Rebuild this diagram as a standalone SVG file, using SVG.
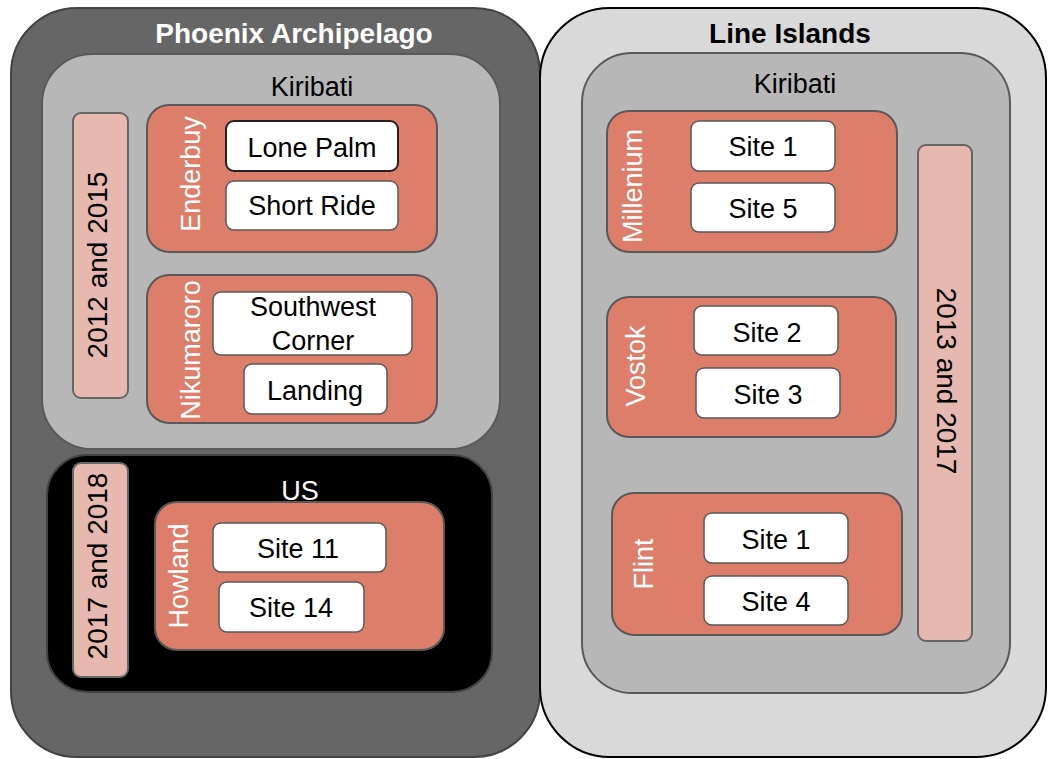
<svg xmlns="http://www.w3.org/2000/svg" width="1048" height="759" viewBox="0 0 1048 759">
  <style>
    text { font-family: "Liberation Sans", Arial, sans-serif; font-size: 27px; text-anchor: middle; }
    .title { font-weight: bold; font-size: 28px; }
    .region { fill: #666666; stroke: #434343; stroke-width: 2; }
    .region2 { fill: #d9d9d9; stroke: #000000; stroke-width: 2; }
    .country { fill: #b7b7b7; stroke: #595959; stroke-width: 2; }
    .us { fill: #000000; stroke: #434343; stroke-width: 2; }
    .island { fill: #dd7e6b; stroke: #595959; stroke-width: 2; }
    .years { fill: #e6b8af; stroke: #666666; stroke-width: 2; }
    .site { fill: #ffffff; stroke: #595959; stroke-width: 1.5; }
    .dark { fill: #000000; }
    .light { fill: #ffffff; }
    .yr { font-size: 28px; }
  </style>

  <!-- Phoenix Archipelago -->
  <g id="phoenix">
    <rect class="region" x="11" y="8" width="529" height="749" rx="66"/>
    <text class="title light" x="294" y="43">Phoenix Archipelago</text>
  </g>

  <g id="phoenix-kiribati">
    <rect class="country" x="42" y="54" width="458" height="395" rx="50"/>
    <text class="dark" x="312" y="96">Kiribati</text>
  </g>

  <g id="years-2012-2015">
    <rect class="years" x="73" y="113" width="55" height="285" rx="8"/>
    <text class="dark yr" transform="translate(107,265) rotate(-90)">2012 and 2015</text>
  </g>

  <g id="enderbuy">
    <rect class="island" x="147" y="105" width="290" height="147" rx="22"/>
    <text class="light" transform="translate(200,174) rotate(-90)">Enderbuy</text>
  </g>
  <g id="lone-palm">
    <rect class="site" x="226" y="121" width="172" height="50" rx="8" style="stroke:#222;stroke-width:2"/>
    <text class="dark" x="312" y="157">Lone Palm</text>
  </g>
  <g id="short-ride">
    <rect class="site" x="226" y="181" width="172" height="49" rx="8"/>
    <text class="dark" x="312" y="215">Short Ride</text>
  </g>

  <g id="nikumaroro">
    <rect class="island" x="147" y="275" width="290" height="148" rx="22"/>
    <text class="light" transform="translate(200,350) rotate(-90)">Nikumaroro</text>
  </g>
  <g id="southwest-corner">
    <rect class="site" x="213" y="292" width="199" height="63" rx="8"/>
    <text class="dark" x="313" y="316">Southwest</text>
    <text class="dark" x="313" y="350">Corner</text>
  </g>
  <g id="landing">
    <rect class="site" x="244" y="364" width="143" height="50" rx="8"/>
    <text class="dark" x="315" y="400">Landing</text>
  </g>

  <g id="phoenix-us">
    <rect class="us" x="47" y="455" width="445" height="237" rx="40"/>
    <text class="light" x="300" y="500">US</text>
  </g>
  <g id="years-2017-2018">
    <rect class="years" x="73" y="463" width="55" height="214" rx="8"/>
    <text class="dark yr" transform="translate(107,566) rotate(-90)">2017 and 2018</text>
  </g>
  <g id="howland">
    <rect class="island" x="155" y="502" width="289" height="148" rx="22"/>
    <text class="light" transform="translate(188,576) rotate(-90)">Howland</text>
  </g>
  <g id="site-11">
    <rect class="site" x="213" y="523" width="173" height="49" rx="8"/>
    <text class="dark" x="298" y="558">Site 11</text>
  </g>
  <g id="site-14">
    <rect class="site" x="219" y="582" width="145" height="50" rx="8"/>
    <text class="dark" x="291" y="617">Site 14</text>
  </g>

  <!-- Line Islands -->
  <g id="line-islands">
    <rect class="region2" x="540" y="8" width="506" height="749" rx="70"/>
    <text class="title dark" x="790" y="43">Line Islands</text>
  </g>
  <g id="line-kiribati">
    <rect class="country" x="582" y="53" width="428" height="640" rx="50"/>
    <text class="dark" x="795" y="93">Kiribati</text>
  </g>
  <g id="years-2013-2017">
    <rect class="years" x="918" y="145" width="54" height="496" rx="8"/>
    <text class="dark yr" transform="translate(937,381) rotate(90)">2013 and 2017</text>
  </g>

  <g id="millenium">
    <rect class="island" x="607" y="111" width="290" height="141" rx="22"/>
    <text class="light" transform="translate(642,186) rotate(-90)">Millenium</text>
  </g>
  <g id="millenium-site-1">
    <rect class="site" x="691" y="121" width="144" height="50" rx="8"/>
    <text class="dark" x="763" y="156">Site 1</text>
  </g>
  <g id="millenium-site-5">
    <rect class="site" x="691" y="183" width="144" height="49" rx="8"/>
    <text class="dark" x="763" y="218">Site 5</text>
  </g>

  <g id="vostok">
    <rect class="island" x="607" y="297" width="289" height="140" rx="22"/>
    <text class="light" transform="translate(645,366) rotate(-90)">Vostok</text>
  </g>
  <g id="vostok-site-2">
    <rect class="site" x="694" y="306" width="144" height="49" rx="8"/>
    <text class="dark" x="767" y="342">Site 2</text>
  </g>
  <g id="vostok-site-3">
    <rect class="site" x="696" y="368" width="144" height="50" rx="8"/>
    <text class="dark" x="768" y="404">Site 3</text>
  </g>

  <g id="flint">
    <rect class="island" x="612" y="493" width="290" height="142" rx="22"/>
    <text class="light" transform="translate(653,564) rotate(-90)">Flint</text>
  </g>
  <g id="flint-site-1">
    <rect class="site" x="704" y="513" width="144" height="50" rx="8"/>
    <text class="dark" x="776" y="549">Site 1</text>
  </g>
  <g id="flint-site-4">
    <rect class="site" x="704" y="576" width="144" height="49" rx="8"/>
    <text class="dark" x="776" y="611">Site 4</text>
  </g>

  <!-- no connectors in this diagram -->
  <g id="connectors"/>
</svg>
